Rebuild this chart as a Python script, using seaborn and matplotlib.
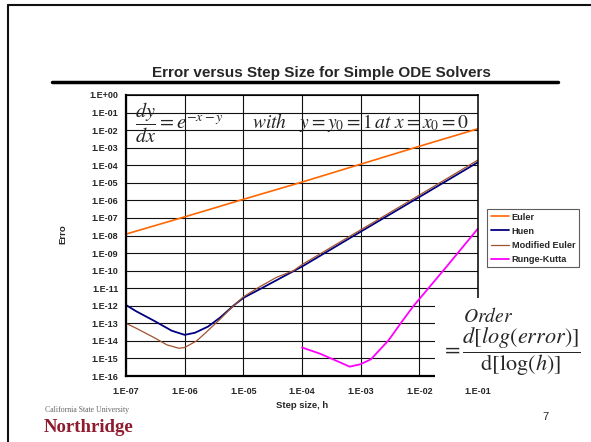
import matplotlib
matplotlib.use("Agg")
import matplotlib.pyplot as plt
import seaborn as sns
from matplotlib.patches import Rectangle
from matplotlib.lines import Line2D
from matplotlib.ticker import FixedLocator, FixedFormatter, NullLocator

# data
h_euler = [1e-7, 1e-6, 1e-5, 1e-4, 1e-3, 1e-2, 1e-1]
err_euler = [1.2e-8, 1.15e-7, 1.15e-6, 1.1e-5, 1.15e-4, 1.2e-3, 1.2e-2]

h_huen = [1e-7, 1.5e-7, 3e-7, 6e-7, 1e-6, 1.5e-6, 2.5e-6, 4e-6, 7e-6, 1e-5,
          2e-5, 4e-5, 1e-4, 1e-3, 1e-2, 1e-1]
err_huen = [1.1e-12, 4.8e-13, 1.4e-13, 3.8e-14, 2.2e-14, 2.9e-14, 6.5e-14, 2.1e-13,
            1.1e-12, 2.8e-12, 9.5e-12, 3.3e-11, 1.7e-10, 1.65e-8, 1.55e-6, 1.5e-4]

h_meuler = [1e-7, 1.5e-7, 3e-7, 5e-7, 8e-7, 1e-6, 1.6e-6, 2.3e-6, 4e-6, 6.5e-6,
            1e-5, 1.9e-5, 3.7e-5, 7.2e-5, 1e-4, 1e-3, 1e-2, 1e-1]
err_meuler = [1.0e-13, 5.2e-14, 1.55e-14, 5.9e-15, 3.8e-15, 4.2e-15, 1.0e-14, 3.0e-14,
              1.7e-13, 8.7e-13, 3.2e-12, 1.2e-11, 4.2e-11, 1.0e-10, 2.2e-10, 2.1e-8,
              2.0e-6, 2.0e-4]

h_rk = [1e-4, 2e-4, 4e-4, 6.5e-4, 1e-3, 1.5e-3, 3e-3, 5e-3, 8e-3, 1e-2, 3e-2, 1e-1]
err_rk = [4.2e-15, 1.9e-15, 7e-16, 3.4e-16, 4.7e-16, 9e-16, 1.1e-14, 1.2e-13,
          1e-12, 2.4e-12, 1.9e-10, 2.5e-8]

x_ticks = [1e-7, 1e-6, 1e-5, 1e-4, 1e-3, 1e-2, 1e-1]
x_tick_labels = ['1.E-07', '1.E-06', '1.E-05', '1.E-04', '1.E-03', '1.E-02', '1.E-01']
y_ticks = [10.0 ** -k for k in range(17)]
y_tick_labels = ['1.E+00'] + ['1.E-%02d' % k for k in range(1, 17)]

W, H = 591, 442
def fx(x):
    return x / W
def fy(y):
    return 1 - y / H

sns.set_theme(style="white")
plt.rcParams['font.family'] = ['Liberation Sans', 'DejaVu Sans']
plt.rcParams['mathtext.fontset'] = 'stix'

fig = plt.figure(figsize=(5.91, 4.42), dpi=100)
ax = fig.add_axes([fx(126), fy(376), (478 - 126) / W, (376 - 95) / H])
ax.set_xscale('log')
ax.set_yscale('log')

sns.lineplot(x=h_euler, y=err_euler, ax=ax, color='#FF6600', lw=1.2, label='Euler')
sns.lineplot(x=h_huen, y=err_huen, ax=ax, color='#000080', lw=1.3, label='Huen')
sns.lineplot(x=h_meuler, y=err_meuler, ax=ax, color='#A0522D', lw=0.9, label='Modified Euler')
sns.lineplot(x=h_rk, y=err_rk, ax=ax, color='#FF00FF', lw=1.3, label='Runge-Kutta')

ax.set_xlim(1e-7, 1e-1)
ax.set_ylim(1e-16, 1)
ax.xaxis.set_major_locator(FixedLocator(x_ticks))
ax.xaxis.set_major_formatter(FixedFormatter(x_tick_labels))
ax.yaxis.set_major_locator(FixedLocator(y_ticks))
ax.yaxis.set_major_formatter(FixedFormatter(y_tick_labels))
ax.xaxis.set_minor_locator(NullLocator())
ax.yaxis.set_minor_locator(NullLocator())
ax.grid(True, which='major', color='#111111', lw=0.8)
ax.tick_params(axis='y', length=0, labelsize=6.5, pad=5.5)
ax.tick_params(axis='x', length=0, labelsize=6.5, pad=8)
for lbl in ax.get_xticklabels() + ax.get_yticklabels():
    lbl.set_fontweight('bold')
ax.set_xlabel('')
ax.set_ylabel('')
for side in ['left', 'bottom']:
    ax.spines[side].set_color('black')
    ax.spines[side].set_linewidth(1.6)
for side in ['top', 'right']:
    ax.spines[side].set_color('black')
    ax.spines[side].set_linewidth(1.1)

leg = ax.legend(loc='upper left', bbox_to_anchor=(fx(487), fy(209)),
                bbox_transform=fig.transFigure, frameon=True, fancybox=False,
                edgecolor='#333333', prop={'weight': 'bold', 'size': 6.6},
                handlelength=2.0, handletextpad=0.3, borderpad=0.4,
                labelspacing=0.55, borderaxespad=0)
leg.get_frame().set_linewidth(0.8)

# white box behind the order formula
fig.add_artist(Rectangle((fx(435), fy(380)), (W - 435) / W, (380 - 298) / H,
                         transform=fig.transFigure, facecolor='white',
                         edgecolor='none', zorder=5))

fig.text(fx(135), fy(123), r'$\dfrac{dy}{dx}=e^{-x-y}$', fontsize=14.5,
         ha='left', va='center')
fig.text(fx(252), fy(123), r'$with\ \ \ y=y_0=1\,at\ x=x_0=0$', fontsize=14,
         ha='left', va='center')
fig.text(fx(463), fy(322), r'$Order$', fontsize=14, ha='left', va='baseline', zorder=6)
fig.text(fx(441), fy(352), r'$=\dfrac{d[log(error)]}{\mathrm{d}[\log(h)]}$', fontsize=16,
         ha='left', va='center', zorder=6)

fig.text(fx(321), fy(73), 'Error versus Step Size for Simple ODE Solvers',
         ha='center', va='center', fontsize=11, fontweight='bold')
fig.add_artist(Line2D([fx(52), fx(558)], [fy(82), fy(82)], color='black', lw=2.5,
                      transform=fig.transFigure))
fig.add_artist(Line2D([fx(8), fx(W)], [fy(5), fy(5)], color='#111111', lw=1.5,
                      transform=fig.transFigure))
fig.add_artist(Line2D([fx(8), fx(8)], [fy(5), fy(H)], color='#111111', lw=1.5,
                      transform=fig.transFigure))

fig.text(fx(63), fy(234), 'Erro', rotation=90, fontsize=6.8, fontweight='bold',
         ha='center', va='center')
fig.text(fx(302), fy(406), 'Step size, h', fontsize=6.8, fontweight='bold',
         ha='center', va='center')
fig.text(fx(545), fy(417), '7', fontsize=8, ha='center', va='center')
fig.text(fx(45), fy(410), 'California State University', family=['Liberation Serif'],
         fontsize=5.6, color='#666666', ha='left', va='center')
fig.text(fx(44), fy(427), 'Northridge', family=['Liberation Serif'], fontweight='bold',
         fontsize=13.5, color='#8E1B2E', ha='left', va='center')

fig.savefig('out.png', dpi=100)
